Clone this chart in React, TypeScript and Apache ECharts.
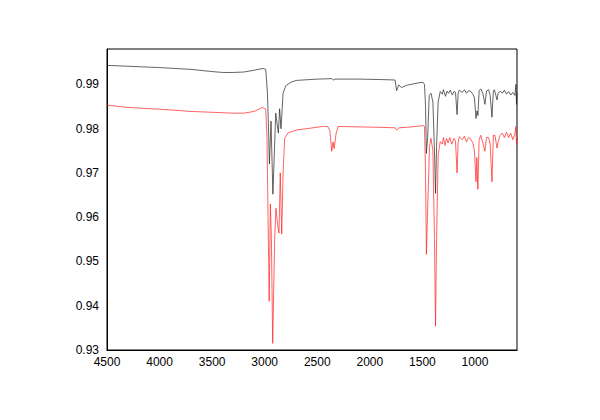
import React, { useEffect, useRef } from "react";
import * as echarts from "echarts";

const xTickLabels = [4500, 4000, 3500, 3000, 2500, 2000, 1500, 1000];
const yTickLabels = [0.93, 0.94, 0.95, 0.96, 0.97, 0.98, 0.99];

const blackWavenumbers = [
  4500, 4300, 4000, 3700, 3500, 3400, 3300, 3200, 3100, 3020, 2990,
  2975, 2966, 2955, 2940, 2922, 2895, 2870, 2858, 2845, 2825, 2800, 2750, 2700,
  2500, 2360, 2345, 2330, 2100, 1900, 1760, 1745, 1725, 1700, 1650, 1550, 1495,
  1480, 1470, 1462, 1450, 1435, 1418, 1400, 1385, 1375, 1365, 1350, 1330,
  1310, 1300, 1280, 1265, 1250, 1235, 1215, 1200, 1185, 1170, 1160, 1150,
  1120, 1100, 1080, 1060, 1040, 1020, 1005, 990, 980, 972, 960, 945, 925,
  905, 890, 870, 855, 838, 825, 815, 790, 780, 760, 740, 720, 700, 680, 660,
  640, 620, 610, 605, 600,
];
const blackValues = [
  0.9943, 0.9941, 0.9938, 0.9934, 0.9929, 0.9927, 0.9927, 0.9928, 0.9932, 0.9936, 0.9934,
  0.9884, 0.982, 0.972, 0.9817, 0.9652, 0.9835, 0.979, 0.9845, 0.98, 0.988, 0.9897, 0.9905, 0.9909,
  0.9912, 0.9913, 0.991, 0.9912, 0.9912, 0.9911, 0.991, 0.9886, 0.9899, 0.9893, 0.9898, 0.9903, 0.9905,
  0.99, 0.985, 0.9744, 0.978, 0.9875, 0.988, 0.986, 0.975, 0.9654, 0.976, 0.986, 0.9884,
  0.9878, 0.9888, 0.9873, 0.9885, 0.988, 0.9887, 0.9876, 0.9884, 0.9882, 0.9832, 0.988, 0.9887,
  0.9882, 0.9888, 0.988, 0.9886, 0.9884, 0.9878, 0.987, 0.9823, 0.984, 0.983, 0.9886, 0.989, 0.988,
  0.9855, 0.9885, 0.9888, 0.9875, 0.9826, 0.9885, 0.9888, 0.9865, 0.988, 0.9885, 0.988, 0.9887, 0.9878, 0.9884, 0.9876,
  0.9882, 0.9875, 0.99, 0.9855, 0.988,
];

const redWavenumbers = [
  4500, 4300, 4000, 3700, 3500, 3300, 3200, 3100, 3020, 2990,
  2978, 2968, 2957, 2946, 2936, 2924, 2905, 2893, 2875, 2864, 2852, 2838, 2825, 2810, 2780,
  2700, 2600, 2450, 2400, 2380, 2362, 2350, 2340, 2320, 2300, 2100, 1900, 1760, 1745, 1720,
  1600, 1495, 1480, 1470, 1462, 1450, 1432, 1418, 1400, 1385, 1375, 1365, 1350, 1330,
  1310, 1300, 1285, 1270, 1255, 1240, 1220, 1200, 1185, 1170, 1160, 1150, 1120, 1100,
  1080, 1060, 1040, 1020, 1005, 990, 982, 972, 960, 945, 925, 905, 890, 870, 855, 838,
  825, 810, 790, 780, 760, 740, 720, 700, 680, 660, 640, 620, 610, 605, 600,
];
const redValues = [
  0.9853, 0.9848, 0.9844, 0.9839, 0.9837, 0.9835, 0.9835, 0.9839, 0.9848, 0.9844,
  0.978, 0.96, 0.941, 0.963, 0.955, 0.9315, 0.955, 0.962, 0.958, 0.9564, 0.97, 0.9562, 0.97, 0.9778, 0.979,
  0.9797, 0.98, 0.9805, 0.9805, 0.9795, 0.9749, 0.977, 0.9755, 0.979, 0.9805, 0.9804, 0.9803, 0.9802, 0.9797, 0.9802,
  0.9804, 0.9807, 0.9805, 0.97, 0.9516, 0.962, 0.976, 0.9778, 0.975, 0.955, 0.9354, 0.955, 0.974, 0.9771,
  0.9765, 0.978, 0.9762, 0.9778, 0.9768, 0.978, 0.9765, 0.9778, 0.9772, 0.97, 0.9768, 0.9782, 0.9775, 0.9783,
  0.977, 0.978, 0.9776, 0.9768, 0.975, 0.968, 0.9735, 0.9663, 0.9775, 0.9785, 0.9768, 0.9749, 0.978, 0.978, 0.9765, 0.968,
  0.9785, 0.9785, 0.9756, 0.977, 0.9785, 0.979, 0.978, 0.9792, 0.978, 0.979, 0.9775, 0.9788, 0.9805, 0.9765, 0.978,
];

const pair = (xs: number[], ys: number[]) => xs.map((x, i) => [x, ys[i]]);

export default function App() {
  const ref = useRef<HTMLDivElement>(null);
  useEffect(() => {
    if (!ref.current) return;
    const chart = echarts.init(ref.current, null, { renderer: "svg" });
    const labelStyle = {
      color: "#000",
      fontFamily: "Liberation Sans, Arial, sans-serif",
      fontSize: 12,
    };
    chart.setOption({
      animation: false,
      backgroundColor: "#fff",
      grid: {
        left: 107,
        right: 83,
        top: 49,
        bottom: 70,
        show: true,
        borderColor: "#000",
        borderWidth: 1,
        backgroundColor: "transparent",
      },
      xAxis: {
        type: "value",
        inverse: true,
        min: 600,
        max: 4500,
        splitLine: { show: false },
        axisLine: { show: true, onZero: false, lineStyle: { color: "#000", width: 1 } },
        axisTick: { show: false, customValues: xTickLabels },
        axisLabel: {
          ...labelStyle,
          margin: 6,
          customValues: xTickLabels,
          formatter: (v: number) => String(v),
        },
      },
      yAxis: {
        type: "value",
        min: 0.93,
        max: 0.998,
        splitLine: { show: false },
        axisLine: { show: true, onZero: false, lineStyle: { color: "#000", width: 1 } },
        axisTick: { show: false, customValues: yTickLabels },
        axisLabel: {
          ...labelStyle,
          margin: 8,
          customValues: yTickLabels,
          formatter: (v: number) => v.toFixed(2),
        },
      },
      series: [
        {
          type: "line",
          data: pair(blackWavenumbers, blackValues),
          showSymbol: false,
          lineStyle: { color: "#222", width: 0.7 },
        },
        {
          type: "line",
          data: pair(redWavenumbers, redValues),
          showSymbol: false,
          lineStyle: { color: "#ff2020", width: 0.7 },
        },
      ],
    });
    return () => chart.dispose();
  }, []);
  return (
    <div
      ref={ref}
      style={{ position: "fixed", left: 0, top: 0, width: 600, height: 420, background: "#fff" }}
    />
  );
}
